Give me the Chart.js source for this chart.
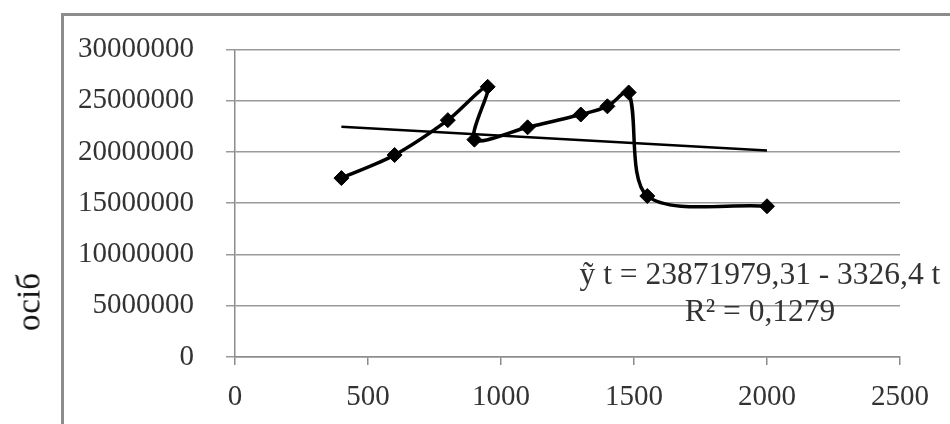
<!DOCTYPE html>
<html>
<head>
<meta charset="utf-8">
<script src="https://cdn.jsdelivr.net/npm/chart.js@4"></script>
<style>
  html, body { margin: 0; padding: 0; background: #fff; }
  #page { position: relative; width: 950px; height: 424px; overflow: hidden; background: #fff; }
  #frame { position: absolute; left: 61px; top: 13px; width: 1000px; height: 600px;
           border-left: 3px solid #8c8c8c; border-top: 3px solid #8c8c8c; }
  #chartBox { position: absolute; left: 0; top: 0; width: 950px; height: 424px; }
  .txt { position: absolute; font-family: "Liberation Serif", serif; color: #333; white-space: nowrap; }
  #ytitle { left: 29px; top: 302px; font-size: 33px; color: #111;
            transform: translate(-50%, -50%) rotate(-90deg); }
  #eq1 { left: 760px; top: 274px; font-size: 31.5px; transform: translate(-50%, -50%); }
  #eq2 { left: 760px; top: 311px; font-size: 31.5px; transform: translate(-50%, -50%); }
</style>
</head>
<body>
<div id="page">
  <div id="frame"></div>
  <div id="chartBox"><canvas id="chart" width="950" height="424"></canvas></div>
  <div class="txt" id="ytitle">осіб</div>
  <div class="txt" id="eq1">ỹ t = 23871979,31 - 3326,4 t</div>
  <div class="txt" id="eq2">R² = 0,1279</div>
</div>
<script>
// values (data order as drawn by the line)
const xValues = [400, 600, 800, 950, 900, 1100, 1300, 1400, 1480, 1550, 2000];
const yValues = [17450000, 19700000, 23100000, 26350000, 21200000, 22400000, 23650000, 24450000, 25800000, 15700000, 14700000];

// trend line ends as drawn
const trendX = [400, 2000];
const trendY = [22450000, 20150000];

const xTicks = [0, 500, 1000, 1500, 2000, 2500];
const yTicks = [0, 5000000, 10000000, 15000000, 20000000, 25000000, 30000000];

const tickFont = { family: "Liberation Serif", size: 29 };

new Chart(document.getElementById("chart"), {
  type: "scatter",
  data: {
    datasets: [
      {
        label: "осіб",
        data: xValues.map((x, i) => ({ x: x, y: yValues[i] })),
        showLine: true,
        borderColor: "#000",
        borderWidth: 3.5,
        tension: 0.3,
        pointStyle: "rectRot",
        pointRadius: 7.5,
        pointBackgroundColor: "#000",
        pointBorderColor: "#000",
        pointBorderWidth: 1,
      },
      {
        label: "trend",
        data: trendX.map((x, i) => ({ x: x, y: trendY[i] })),
        showLine: true,
        borderColor: "#000",
        borderWidth: 2.5,
        pointRadius: 0,
        tension: 0,
      },
    ],
  },
  options: {
    responsive: false,
    animation: false,
    layout: { padding: { left: 0, right: 50, top: 45, bottom: 0 } },
    plugins: { legend: { display: false }, tooltip: { enabled: false } },
    scales: {
      x: {
        type: "linear",
        min: 0,
        max: 2500,
        afterBuildTicks: (s) => { s.ticks = xTicks.map((v) => ({ value: v })); },
        afterFit: (s) => { s.height = 67; },
        grid: { drawOnChartArea: false, drawTicks: true, tickLength: 8, color: "#8c8c8c", lineWidth: 1.5 },
        border: { color: "#8c8c8c", width: 1.5 },
        ticks: { font: tickFont, color: "#333", padding: 15, maxRotation: 0, callback: (v) => String(v) },
      },
      y: {
        min: 0,
        max: 30000000,
        afterBuildTicks: (s) => { s.ticks = yTicks.map((v) => ({ value: v })); },
        afterFit: (s) => { s.width = 235; },
        grid: { color: "#9a9a9a", lineWidth: 1.5, tickLength: 9 },
        border: { color: "#8c8c8c", width: 1.5 },
        ticks: { font: tickFont, color: "#333", padding: 32, callback: (v) => String(v) },
      },
    },
  },
});
</script>
</body>
</html>
